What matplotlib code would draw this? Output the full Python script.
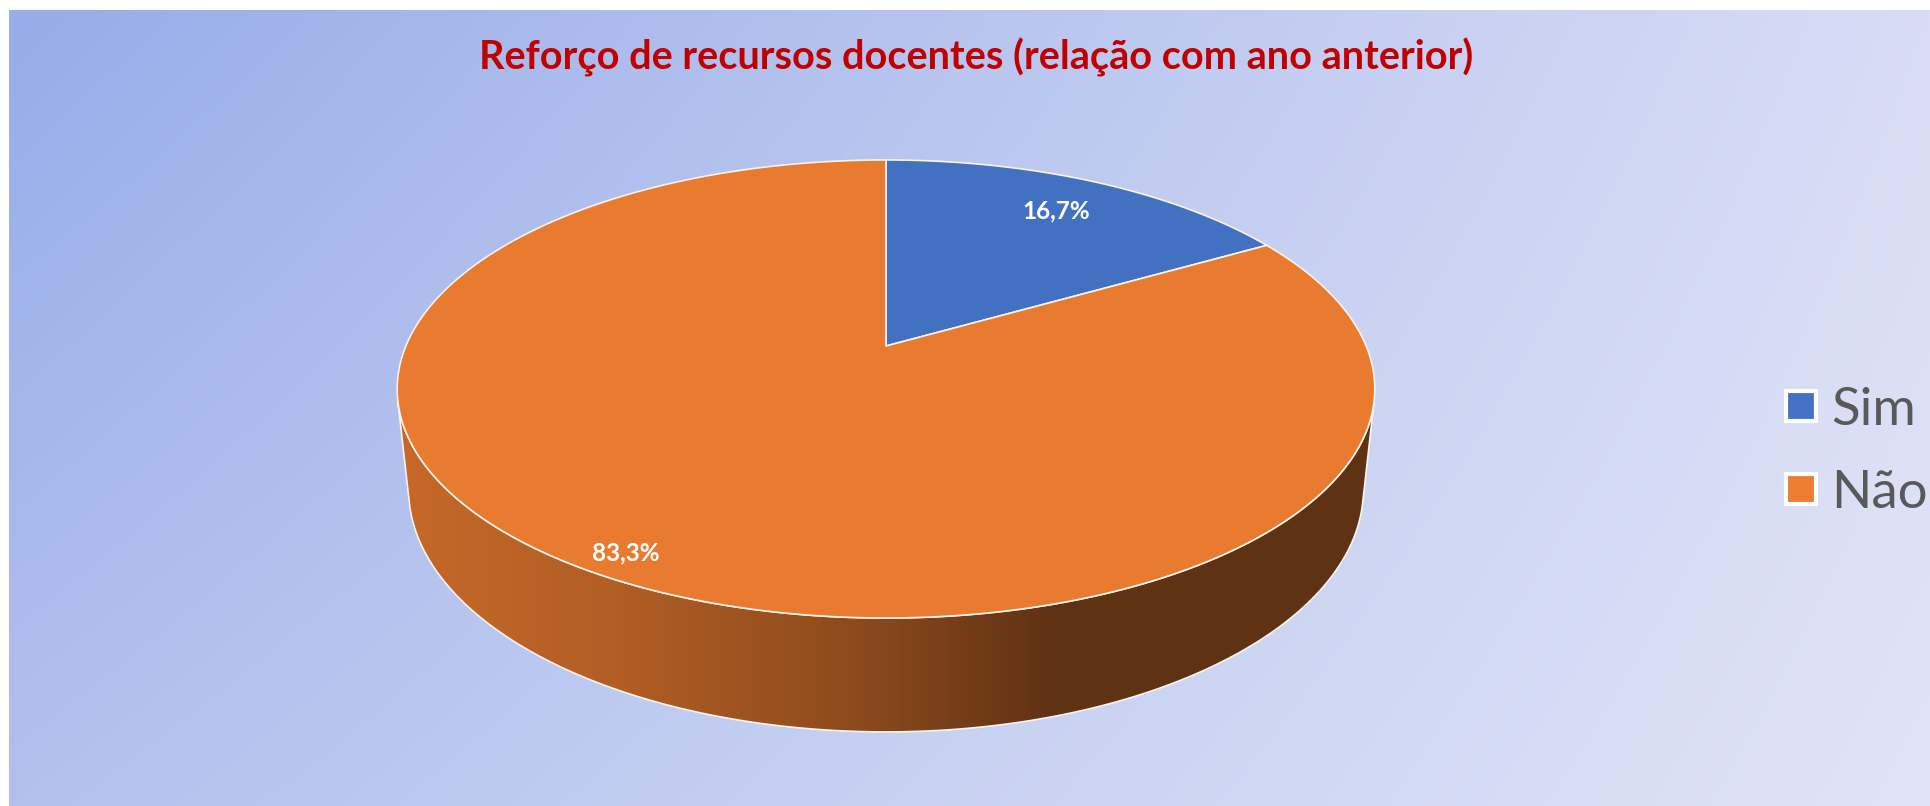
import numpy as np
import matplotlib
matplotlib.use('Agg')
import matplotlib.pyplot as plt
from matplotlib.patches import Polygon, Rectangle

# ---------------- data ----------------
categories = ['Sim', 'Não']
values = [16.7, 83.3]
value_labels = ['16,7%', '83,3%']
title = 'Reforço de recursos docentes (relação com ano anterior)'

# ---------------- style ----------------
top_colors = ['#4371C1', '#E97B30']
legend_colors = ['#4472C4', '#ED7D31']
label_radius = [0.8, 0.92]
edge_col = '#FBF3EC'
FONT = 'Lato'

W, H = 1930, 806
fig = plt.figure(figsize=(W / 100, H / 100), dpi=100, facecolor='white')
ax = fig.add_axes([0, 0, 1, 1])
ax.set_xlim(0, W)
ax.set_ylim(H, 0)
ax.axis('off')

# background gradient (bilinear between four corners)
TL = np.array([151, 172, 232]) / 255
TR = np.array([216, 221, 245]) / 255
BL = np.array([178, 193, 238]) / 255
BR = np.array([224, 228, 246]) / 255
u = np.linspace(0, 1, 300)[None, :, None]
v = np.linspace(0, 1, 150)[:, None, None]
bg = (1 - v) * ((1 - u) * TL + u * TR) + v * ((1 - u) * BL + u * BR)
ax.imshow(bg, extent=(9, W, H, 10), origin='upper', aspect='auto',
          interpolation='bilinear', zorder=0)

# ---------------- perspective model of the 3D pie ----------------
cx, cy = 886, 346
D = 4.73
elev = np.radians(27.4)
f = 2271.0
h = 0.238


def proj(X, Y, Z):
    yc = Z * np.cos(elev) + Y * np.sin(elev)
    d = D + Y * np.cos(elev) - Z * np.sin(elev)
    return cx + f * X / d, cy - f * yc / d


total = float(sum(values))
cum = np.concatenate([[0], np.cumsum(values)]) / total * 360.0

# visible wall range (degrees)
beta = np.degrees(np.arcsin(1.0 / (D * np.cos(elev))))
V0, V1 = -180 + beta, -beta


def shade_factor(x):
    return np.interp(x, [400, 620, 860, 1050], [0.85, 0.76, 0.60, 0.41])


# side walls
for i in range(len(values)):
    lo, hi = 90 - cum[i + 1], 90 - cum[i]
    base = np.array(matplotlib.colors.to_rgb(top_colors[i]))
    for k in (-360, 0, 360):
        a0, a1 = max(lo, V0 + k), min(hi, V1 + k)
        if a0 >= a1:
            continue
        th = np.radians(np.linspace(a0, a1, 200))
        xt, yt = proj(np.cos(th), np.sin(th), 0 * th)
        xb, yb = proj(np.cos(th), np.sin(th), 0 * th - h)
        pts = np.column_stack([np.concatenate([xt, xb[::-1]]),
                               np.concatenate([yt, yb[::-1]])])
        poly = Polygon(pts, closed=True, facecolor='none', edgecolor='none')
        ax.add_patch(poly)
        x0, x1 = pts[:, 0].min(), pts[:, 0].max()
        y0, y1 = pts[:, 1].min(), pts[:, 1].max()
        xs = np.linspace(x0, x1, 400)
        grad = (shade_factor(xs)[:, None] * base[None, :])[None, :, :]
        im = ax.imshow(grad, extent=(x0, x1, y1, y0), origin='upper',
                       aspect='auto', interpolation='bilinear', zorder=2)
        im.set_clip_path(poly)
        ax.add_patch(Polygon(pts, closed=True, facecolor='none',
                             edgecolor=edge_col, lw=1.2, zorder=3))

# top faces
for i in range(len(values)):
    th = np.radians(np.linspace(90 - cum[i], 90 - cum[i + 1], 400))
    xt, yt = proj(np.cos(th), np.sin(th), 0 * th)
    c0 = proj(0.0, 0.0, 0.0)
    pts = np.column_stack([np.concatenate([[c0[0]], xt]),
                           np.concatenate([[c0[1]], yt])])
    ax.add_patch(Polygon(pts, closed=True, facecolor=top_colors[i],
                         edgecolor=edge_col, lw=1.2, zorder=4,
                         joinstyle='round'))

# data labels
for i in range(len(values)):
    mid = np.radians(90 - (cum[i] + cum[i + 1]) / 2)
    r = label_radius[i]
    lx, ly = proj(r * np.cos(mid), r * np.sin(mid), 0.0)
    ax.text(lx, ly, value_labels[i], color='white', fontsize=17.5,
            fontweight='bold', family=FONT, ha='center', va='center',
            zorder=6)

# title
ax.text(976, 57, title, color='#C00000', fontsize=28.5, fontweight='bold',
        family=FONT, ha='center', va='center', zorder=6)

# legend
leg_y = [406, 489]
for i, cat in enumerate(categories):
    ax.add_patch(Rectangle((1786, leg_y[i] - 15), 30, 30,
                           facecolor=legend_colors[i], edgecolor='white',
                           lw=3, zorder=6))
    ax.text(1831, leg_y[i], cat, color='#595959', fontsize=38,
            family=FONT, ha='left', va='center_baseline', zorder=6)

fig.savefig('out.png', dpi=100, facecolor='white')
